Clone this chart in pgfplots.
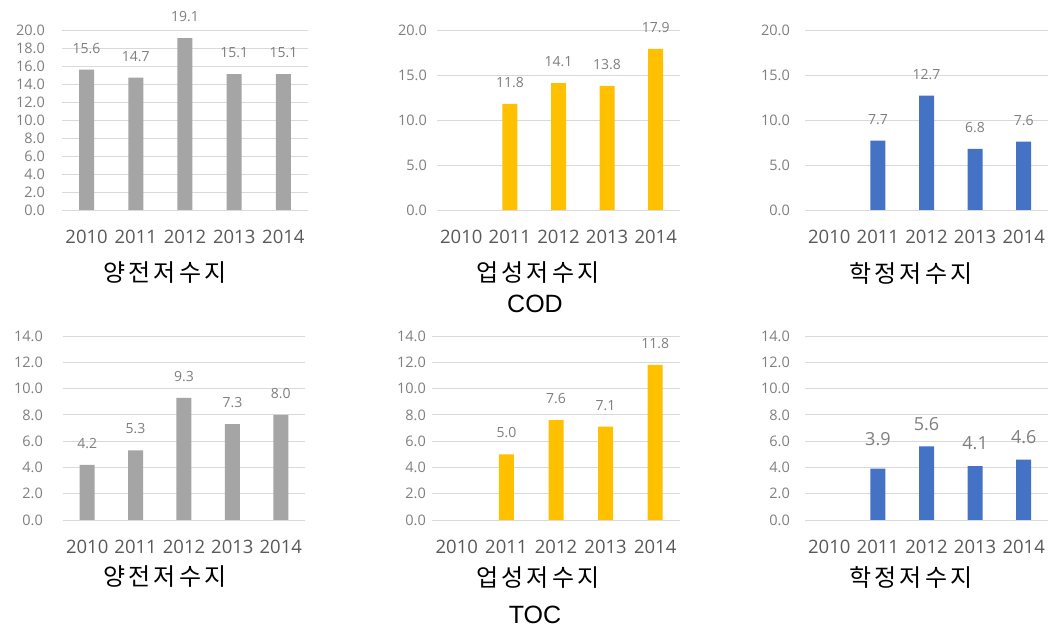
\documentclass[border=0pt]{standalone}
\usepackage{fontspec}
\setmainfont{Open Sans}
\newfontfamily\kr[LetterSpace=14]{Noto Sans CJK KR}
\newfontfamily\lat{Liberation Sans}
\usepackage{pgfplots}
\usepackage{pgfplotstable}
\pgfplotsset{compat=1.18}

\definecolor{barG}{HTML}{A5A5A5}
\definecolor{barY}{HTML}{FFC000}
\definecolor{barB}{HTML}{4472C4}
\definecolor{gridc}{HTML}{D9D9D9}
\definecolor{tickc}{HTML}{7F7F7F}
\definecolor{yearc}{HTML}{595959}

% TOC, Hakjeong reservoir: value and extra label lift above the bar
\pgfplotstableread{
yr  val  off
1   3.9  7
2   5.6  -1
3   4.1  0
4   4.6  0
}\tochak

\pgfplotsset{
  /pgf/number format/assume math mode=true,
  panel/.style={
    scale only axis, ybar, bar width=15pt,
    xmin=-0.5, xmax=4.5, ymin=0,
    xtick={0,1,2,3,4}, xticklabels={2010,2011,2012,2013,2014},
    axis line style={draw=none}, major tick length=0pt,
    ymajorgrids, grid style={gridc, line width=0.9pt},
    xticklabel style={font=\fontsize{18.5}{20}\selectfont, text=yearc,
      anchor=center, yshift=-27pt, inner sep=0pt},
    yticklabel style={font=\fontsize{14.5}{16}\selectfont, text=tickc,
      anchor=east, inner sep=0pt,
      /pgf/number format/fixed, /pgf/number format/fixed zerofill,
      /pgf/number format/precision=1},
    nodes near coords={\pgfmathprintnumber[fixed,fixed zerofill,precision=1]{\pgfplotspointmeta}},
    every node near coord/.append style={font=\fontsize{14}{16}\selectfont,
      text=tickc, inner sep=0pt, yshift=16pt},
    clip=false,
  },
  codrow/.style={panel, width=243pt, height=180pt, ymax=20},
  tocrow/.style={panel, width=243pt, height=184pt, ymax=14, ytick={0,2,...,14}},
}

\begin{document}
\begin{tikzpicture}[x=1pt,y=1pt]
\fill[white] (0,0) rectangle (1053,629);
\useasboundingbox (0,0) rectangle (1053,629);

% ---------------- COD ----------------
\begin{axis}[codrow, width=246pt, at={(62pt,419pt)}, anchor=south west,
  ytick={0,2,...,20}, yticklabel style={xshift=-17pt}]
\addplot[fill=barG, draw=none] coordinates {(0,15.6) (1,14.7) (2,19.1) (3,15.1) (4,15.1)};
\end{axis}

\begin{axis}[codrow, at={(437pt,419pt)}, anchor=south west,
  ytick={0,5,...,20}, yticklabel style={xshift=-10pt}]
\addplot[fill=barY, draw=none] coordinates {(1,11.8) (2,14.1) (3,13.8) (4,17.9)};
\end{axis}

\begin{axis}[codrow, at={(805pt,419pt)}, anchor=south west,
  ytick={0,5,...,20}, yticklabel style={xshift=-15pt}]
\addplot[fill=barB, draw=none] coordinates {(1,7.7) (2,12.7) (3,6.8) (4,7.6)};
\end{axis}

% ---------------- TOC ----------------
\begin{axis}[tocrow, width=242pt, at={(63pt,109pt)}, anchor=south west,
  yticklabel style={xshift=-20pt}]
\addplot[fill=barG, draw=none] coordinates {(0,4.2) (1,5.3) (2,9.3) (3,7.3) (4,8.0)};
\end{axis}

\begin{axis}[tocrow, width=248pt, at={(432pt,109pt)}, anchor=south west,
  yticklabel style={xshift=-6pt}]
\addplot[fill=barY, draw=none] coordinates {(1,5.0) (2,7.6) (3,7.1) (4,11.8)};
\end{axis}

\begin{axis}[tocrow, at={(805pt,109pt)}, anchor=south west,
  yticklabel style={xshift=-15pt},
  every node near coord/.append style={font=\fontsize{18}{20}\selectfont}]
\addplot[fill=barB, draw=none,
  visualization depends on={\thisrow{off} \as \loff},
  nodes near coords style={yshift=\loff}]
  table[x=yr, y=val] {\tochak};
\end{axis}

% ---------------- captions ----------------
\begin{scope}[every node/.style={font=\kr\fontsize{24}{28}\selectfont, inner sep=0pt}]
\node at (165,356) {양전저수지};
\node at (538,356) {업성저수지};
\node at (911,356) {학정저수지};
\node at (165,52) {양전저수지};
\node at (538,51) {업성저수지};
\node at (911,52) {학정저수지};
\end{scope}
\node[font=\lat\fontsize{25}{28}\selectfont, inner sep=0pt] at (535,325) {COD};
\node[font=\lat\fontsize{25}{28}\selectfont, inner sep=0pt] at (535,14) {TOC};
\end{tikzpicture}
\end{document}
